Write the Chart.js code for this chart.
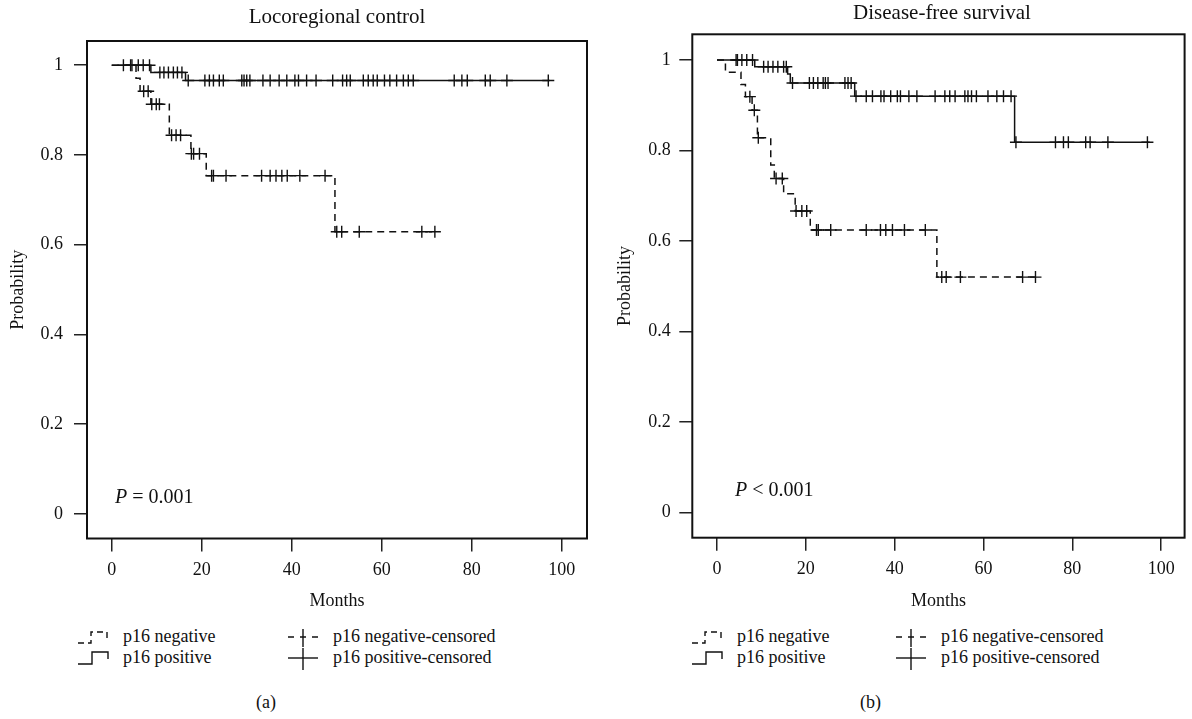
<!DOCTYPE html>
<html><head><meta charset="utf-8">
<script src="https://cdn.jsdelivr.net/npm/chart.js@4.4.0/dist/chart.umd.min.js"></script>
<style>
html,body{margin:0;padding:0;background:#fff;}
#wrap{position:relative;width:1192px;height:719px;overflow:hidden;font-family:"Liberation Serif","DejaVu Serif",serif;color:#111;}
canvas{position:absolute;top:0;}
.t{position:absolute;font-size:18px;line-height:18px;white-space:nowrap;}
.p{position:absolute;font-size:20px;line-height:20px;white-space:nowrap;}
.h{position:absolute;font-size:21px;line-height:21px;white-space:nowrap;text-align:center;width:300px;}
svg{position:absolute;overflow:visible;}
</style></head><body>
<div id="wrap">
<canvas id="c1" width="600" height="620" style="left:0px"></canvas>
<canvas id="c2" width="592" height="620" style="left:600px"></canvas>

<div class="h" style="left:187px;top:5.5px">Locoregional control</div>
<div class="h" style="left:792px;top:1.5px">Disease-free survival</div>

<div class="p" style="left:115px;top:486px"><i>P</i> = 0.001</div>
<div class="p" style="left:735px;top:479px"><i>P</i> &lt; 0.001</div>

<!-- legend (a) -->
<svg style="left:78px;top:628px" width="30" height="18"><polyline points="0,15 13,15 13,4 29,4 29,10" fill="none" stroke="#111" stroke-width="1.4" stroke-dasharray="6,4"/></svg>
<div class="t" style="left:123px;top:627px">p16 negative</div>
<svg style="left:78px;top:649px" width="30" height="18"><polyline points="0,15 14,15 14,3 30,3 30,10" fill="none" stroke="#111" stroke-width="1.4"/></svg>
<div class="t" style="left:123px;top:648px">p16 positive</div>
<svg style="left:288px;top:628px" width="30" height="20"><line x1="0" y1="9" x2="30" y2="9" stroke="#111" stroke-width="1.4" stroke-dasharray="6,6"/><line x1="15" y1="1" x2="15" y2="19" stroke="#111" stroke-width="1.4"/></svg>
<div class="t" style="left:333px;top:627px">p16 negative-censored</div>
<svg style="left:288px;top:648px" width="30" height="22"><line x1="0" y1="10" x2="30" y2="10" stroke="#111" stroke-width="1.4"/><line x1="15" y1="0" x2="15" y2="22" stroke="#111" stroke-width="1.4"/></svg>
<div class="t" style="left:333px;top:648px">p16 positive-censored</div>
<div class="t" style="left:256px;top:693px">(a)</div>

<!-- legend (b) -->
<svg style="left:692px;top:628px" width="30" height="18"><polyline points="0,15 13,15 13,4 29,4 29,10" fill="none" stroke="#111" stroke-width="1.4" stroke-dasharray="6,4"/></svg>
<div class="t" style="left:737px;top:627px">p16 negative</div>
<svg style="left:692px;top:649px" width="30" height="18"><polyline points="0,15 14,15 14,3 30,3 30,10" fill="none" stroke="#111" stroke-width="1.4"/></svg>
<div class="t" style="left:737px;top:648px">p16 positive</div>
<svg style="left:896px;top:628px" width="30" height="20"><line x1="0" y1="9" x2="30" y2="9" stroke="#111" stroke-width="1.4" stroke-dasharray="6,6"/><line x1="15" y1="1" x2="15" y2="19" stroke="#111" stroke-width="1.4"/></svg>
<div class="t" style="left:941px;top:627px">p16 negative-censored</div>
<svg style="left:896px;top:648px" width="30" height="22"><line x1="0" y1="10" x2="30" y2="10" stroke="#111" stroke-width="1.4"/><line x1="15" y1="0" x2="15" y2="22" stroke="#111" stroke-width="1.4"/></svg>
<div class="t" style="left:941px;top:648px">p16 positive-censored</div>
<div class="t" style="left:860px;top:693px">(b)</div>
</div>
<script>
// ---- tick labels ----
const xTicks = [0, 20, 40, 60, 80, 100];
const yTicks = [0, 0.2, 0.4, 0.6, 0.8, 1];

// ---- (a) Locoregional control ----
const lrcNegTimes = [0, 5.4, 6.3, 8.7, 12.8, 17.6, 21.0, 49.6, 72];
const lrcNegSurv  = [1, 0.971, 0.942, 0.913, 0.844, 0.803, 0.754, 0.629, 0.629];
const lrcNegCensored = [7.1, 8.1, 8.9, 9.9, 10.6, 13.3, 14.3, 15.3, 17.7, 18.2, 19.5, 22.2, 22.6, 25.4, 33.3, 35.2, 36.5, 37.8, 39.0, 41.8, 47.4, 50.0, 51.1, 55.0, 68.9, 71.8];

const lrcPosTimes = [0, 8.7, 16.4, 97.3];
const lrcPosSurv  = [1, 0.984, 0.966, 0.966];
const lrcPosCensored = [2.6, 4.2, 4.5, 5.9, 7.0, 8.4, 10.7, 11.6, 12.6, 13.7, 14.6, 15.6, 17.0, 20.7, 21.7, 22.6, 23.9, 24.8, 28.9, 29.4, 30.0, 30.7, 33.6, 35.2, 37.2, 38.9, 40.7, 41.5, 43.3, 45.4, 49.1, 51.3, 52.2, 53.0, 55.9, 57.0, 58.1, 59.0, 60.6, 61.8, 63.3, 64.8, 65.9, 67.0, 76.1, 77.8, 79.0, 83.0, 84.1, 87.8, 97.0];

// ---- (b) Disease-free survival ----
const dfsNegTimes = [0, 1.9, 5.4, 6.4, 7.9, 9.1, 12.1, 12.9, 15.0, 17.6, 21.0, 49.5, 72];
const dfsNegSurv  = [1, 0.973, 0.946, 0.919, 0.889, 0.828, 0.768, 0.738, 0.704, 0.666, 0.624, 0.520, 0.520];
const dfsNegCensored = [7.4, 8.4, 9.3, 13.3, 14.7, 17.8, 19.1, 20.2, 22.4, 22.8, 25.6, 33.6, 36.8, 38.0, 39.5, 42.2, 46.9, 50.6, 51.6, 54.8, 68.8, 71.7];

const dfsPosTimes = [0, 8.5, 15.9, 16.5, 31.0, 67.0, 97.4];
const dfsPosSurv  = [1, 0.985, 0.969, 0.949, 0.920, 0.818, 0.818];
const dfsPosCensored = [4.3, 4.6, 5.6, 6.7, 8.0, 10.5, 11.5, 12.6, 13.7, 15.0, 15.6, 17.0, 20.8, 21.7, 22.7, 23.9, 24.4, 25.0, 28.8, 29.5, 30.2, 31.3, 33.6, 35.0, 36.9, 37.6, 39.1, 40.6, 41.3, 43.2, 45.0, 49.1, 51.3, 52.4, 53.6, 55.8, 56.5, 57.3, 58.4, 61.0, 63.0, 64.5, 66.2, 67.3, 76.2, 78.0, 79.1, 83.0, 84.0, 88.0, 96.9];

// ---- helpers ----
function stepPoints(times, surv) { return times.map((t, i) => ({x: t, y: surv[i]})); }
function survAt(times, surv, t) { let s = surv[0]; for (let i = 0; i < times.length; i++) { if (times[i] <= t) s = surv[i]; } return s; }
function censorPoints(times, surv, cens) { return cens.map(t => ({x: t, y: survAt(times, surv, t)})); }

Chart.defaults.font.family = '"Liberation Serif", "DejaVu Serif", serif';
Chart.defaults.font.size = 18;
Chart.defaults.color = '#111';

const INK = '#111';
const boxPlugin = {
  id: 'box',
  afterDatasetsDraw(chart) {
    const {ctx, chartArea: a} = chart;
    ctx.save();
    ctx.strokeStyle = INK; ctx.lineWidth = 2;
    ctx.strokeRect(a.left, a.top, a.right - a.left, a.bottom - a.top);
    ctx.restore();
  }
};

function makeChart(id, cfg) {
  const datasets = [
    {data: stepPoints(cfg.negT, cfg.negS), borderColor: INK, borderWidth: 1.5, borderDash: [7, 5], stepped: true, pointRadius: 0, fill: false},
    {data: stepPoints(cfg.posT, cfg.posS), borderColor: INK, borderWidth: 1.5, stepped: true, pointRadius: 0, fill: false},
    {data: censorPoints(cfg.negT, cfg.negS, cfg.negC), showLine: false, pointStyle: 'cross', pointRadius: 6, pointBorderWidth: 1.4, pointBorderColor: INK, borderColor: INK},
    {data: censorPoints(cfg.posT, cfg.posS, cfg.posC), showLine: false, pointStyle: 'cross', pointRadius: 6, pointBorderWidth: 1.4, pointBorderColor: INK, borderColor: INK}
  ];
  return new Chart(document.getElementById(id), {
    type: 'line',
    data: {datasets},
    plugins: [boxPlugin],
    options: {
      responsive: false, animation: false, events: [],
      layout: {padding: {left: 0, right: cfg.padRight, top: cfg.padTop, bottom: 0}},
      plugins: {legend: {display: false}, tooltip: {enabled: false}, title: {display: false}},
      scales: {
        x: {
          type: 'linear', min: cfg.xMin, max: cfg.xMax,
          afterBuildTicks: s => { s.ticks = xTicks.map(v => ({value: v})); },
          afterFit: s => { s.height = cfg.xHeight; },
          ticks: {autoSkip: false, maxRotation: 0, padding: 7.7, color: INK, callback: v => String(v)},
          grid: {drawOnChartArea: false, drawTicks: true, tickLength: 13, color: '#222', lineWidth: 1.5},
          border: {display: false},
          title: {display: true, text: 'Months', color: INK, padding: {top: 0, bottom: 8}}
        },
        y: {
          min: cfg.yMin, max: cfg.yMax,
          afterBuildTicks: s => { s.ticks = yTicks.map(v => ({value: v})); },
          afterFit: s => { s.width = cfg.yWidth; },
          ticks: {padding: cfg.yTickPad, color: INK, callback: v => String(v)},
          grid: {drawOnChartArea: false, drawTicks: true, tickLength: 13, color: '#222', lineWidth: 1.5},
          border: {display: false},
          title: {display: true, text: 'Probability', color: INK, padding: {top: cfg.yTitlePad, bottom: 0}}
        }
      }
    }
  });
}

makeChart('c1', {
  negT: lrcNegTimes, negS: lrcNegSurv, negC: lrcNegCensored,
  posT: lrcPosTimes, posS: lrcPosSurv, posC: lrcPosCensored,
  xMin: -5.49, xMax: 105.6, yMin: -0.0546, yMax: 1.054,
  padRight: 13, padTop: 41, yWidth: 87, xHeight: 81.5, yTickPad: 11, yTitlePad: 7
});
makeChart('c2', {
  negT: dfsNegTimes, negS: dfsNegSurv, negC: dfsNegCensored,
  posT: dfsPosTimes, posS: dfsPosSurv, posC: dfsPosCensored,
  xMin: -5.56, xMax: 105.27, yMin: -0.0562, yMax: 1.0568,
  padRight: 1, padTop: 34.3, yWidth: 92.3, xHeight: 82.3, yTickPad: 8.6, yTitlePad: 14
});
</script>
</body></html>
